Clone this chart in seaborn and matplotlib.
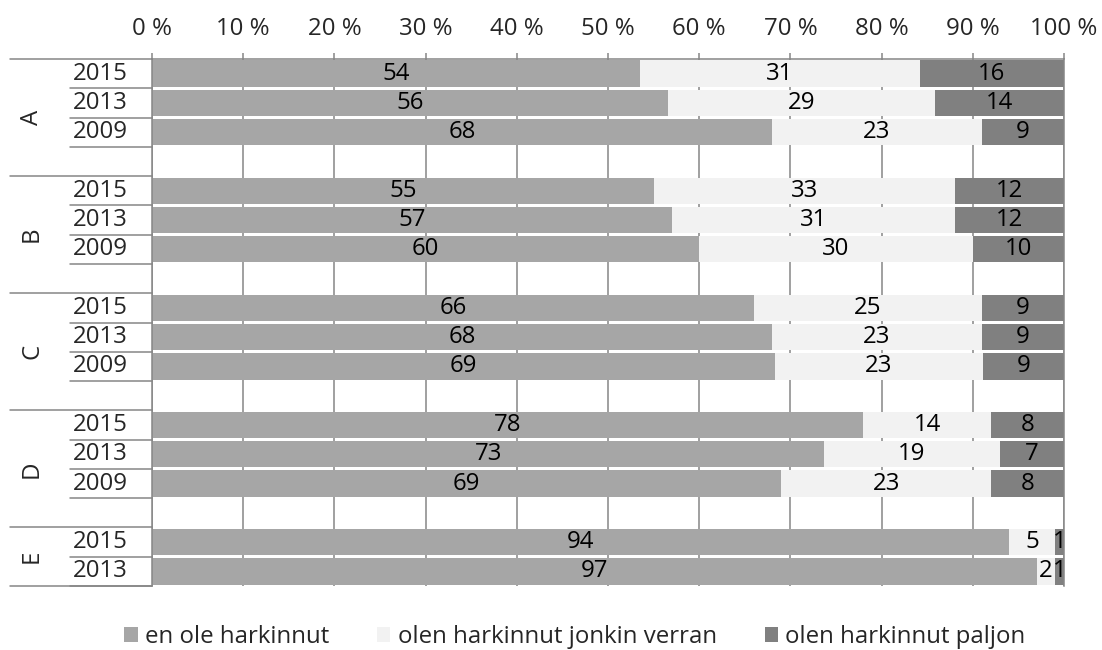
import pandas as pd
import matplotlib
matplotlib.use("Agg")
import matplotlib.pyplot as plt
import matplotlib.transforms as mtransforms
from matplotlib.patches import Patch
import seaborn as sns

# === Datos ===
groups = ["A", "A", "A", "B", "B", "B", "C", "C", "C", "D", "D", "D", "E", "E"]
years = ["2015", "2013", "2009", "2015", "2013", "2009", "2015", "2013", "2009",
         "2015", "2013", "2009", "2015", "2013"]
en_ole = [54, 56, 68, 55, 57, 60, 66, 68, 69, 78, 73, 69, 94, 97]
jonkin = [31, 29, 23, 33, 31, 30, 25, 23, 23, 14, 19, 23, 5, 2]
paljon = [16, 14, 9, 12, 12, 10, 9, 9, 9, 8, 7, 8, 1, 1]
series_names = ["en ole harkinnut", "olen harkinnut jonkin verran", "olen harkinnut paljon"]
colors = ["#a6a6a6", "#f2f2f2", "#808080"]
grid_col = "#868686"

df = pd.DataFrame({"group": groups, "year": years,
                   "s1": en_ole, "s2": jonkin, "s3": paljon})
df["row"] = df["group"] + " " + df["year"]
total = df[["s1", "s2", "s3"]].sum(axis=1)
df["c1"] = df["s1"] / total * 100
df["c2"] = (df["s1"] + df["s2"]) / total * 100
df["c3"] = 100.0

# orden con una fila vacía después de cada grupo (menos el último)
order = []
uniq_groups = list(dict.fromkeys(groups))
for g in uniq_groups:
    order += list(df.loc[df["group"] == g, "row"])
    if g != uniq_groups[-1]:
        order.append(g + " gap")

sns.set_style("white")
plt.rcParams["font.family"] = ["Open Sans", "DejaVu Sans"]
fs = 17.3

fig = plt.figure(figsize=(11.02, 6.5), dpi=100)
ax = fig.add_axes([152 / 1102, 1 - 586 / 650, 912 / 1102, 527 / 650])

# barras apiladas: acumulados dibujados de mayor a menor
for col, color in zip(["c3", "c2", "c1"], colors[::-1]):
    sns.barplot(data=df, y="row", x=col, order=order, orient="h", color=color,
                saturation=1, width=0.9, linewidth=0, errorbar=None, ax=ax)

ax.set_xlim(0, 100)
ax.set_ylim(len(order) - 0.5, -0.5)
ax.set_xlabel("")
ax.set_ylabel("")
ax.set_yticks([])
ax.xaxis.tick_top()
ax.set_xticks(range(0, 101, 10))
ax.set_xticklabels([f"{v} %" for v in range(0, 101, 10)], fontsize=fs)
ax.tick_params(axis="x", length=4, width=1.1, color=grid_col, pad=9)
ax.set_axisbelow(True)
ax.grid(True, axis="x", color=grid_col, linewidth=1.1)
for side in ["top", "left", "right"]:
    ax.spines[side].set_color(grid_col)
    ax.spines[side].set_linewidth(1.1)
ax.spines["bottom"].set_visible(False)

# etiquetas de valores
for _, r in df.iterrows():
    y = order.index(r["row"])
    starts = [0, r["c1"], r["c2"]]
    ends = [r["c1"], r["c2"], r["c3"]]
    for v, s, e in zip([r["s1"], r["s2"], r["s3"]], starts, ends):
        ax.text((s + e) / 2, y, str(v), ha="center", va="center", fontsize=fs, color="black")

# etiquetas de categoría en dos niveles
trans = mtransforms.blended_transform_factory(ax.transAxes, ax.transData)
x_grp = (10 - 152) / 912
x_year = (70 - 152) / 912
line_kw = dict(color=grid_col, linewidth=1.1, transform=trans, clip_on=False)
for g in uniq_groups:
    rows = [order.index(k) for k in df.loc[df["group"] == g, "row"]]
    top = rows[0] - 0.5
    bottom = rows[-1] + 0.5 if g == uniq_groups[-1] else rows[-1] + 1.5
    ax.plot([x_grp, 0], [top, top], **line_kw)
    for y in rows:
        ax.text(x_year + 0.003, y, df.loc[df["row"] == order[y], "year"].iloc[0],
                ha="left", va="center", fontsize=fs, transform=trans)
        ax.plot([x_year, 0], [y + 0.5, y + 0.5], **line_kw)
    ax.text((32 - 152) / 912, (top + bottom) / 2, g, rotation=90, ha="center",
            va="center", fontsize=fs, transform=trans)
last_bottom = len(order) - 0.5
ax.plot([x_grp, 0], [last_bottom, last_bottom], **line_kw)

handles = [Patch(facecolor=c, edgecolor="none") for c in colors]
fig.legend(handles, series_names, loc="center", bbox_to_anchor=(575 / 1102, 1 - 637 / 650),
           ncol=3, frameon=False, fontsize=fs, handlelength=0.55, handleheight=0.55,
           handletextpad=0.3, columnspacing=2.0, borderaxespad=0)

fig.savefig("out.png", dpi=100)
